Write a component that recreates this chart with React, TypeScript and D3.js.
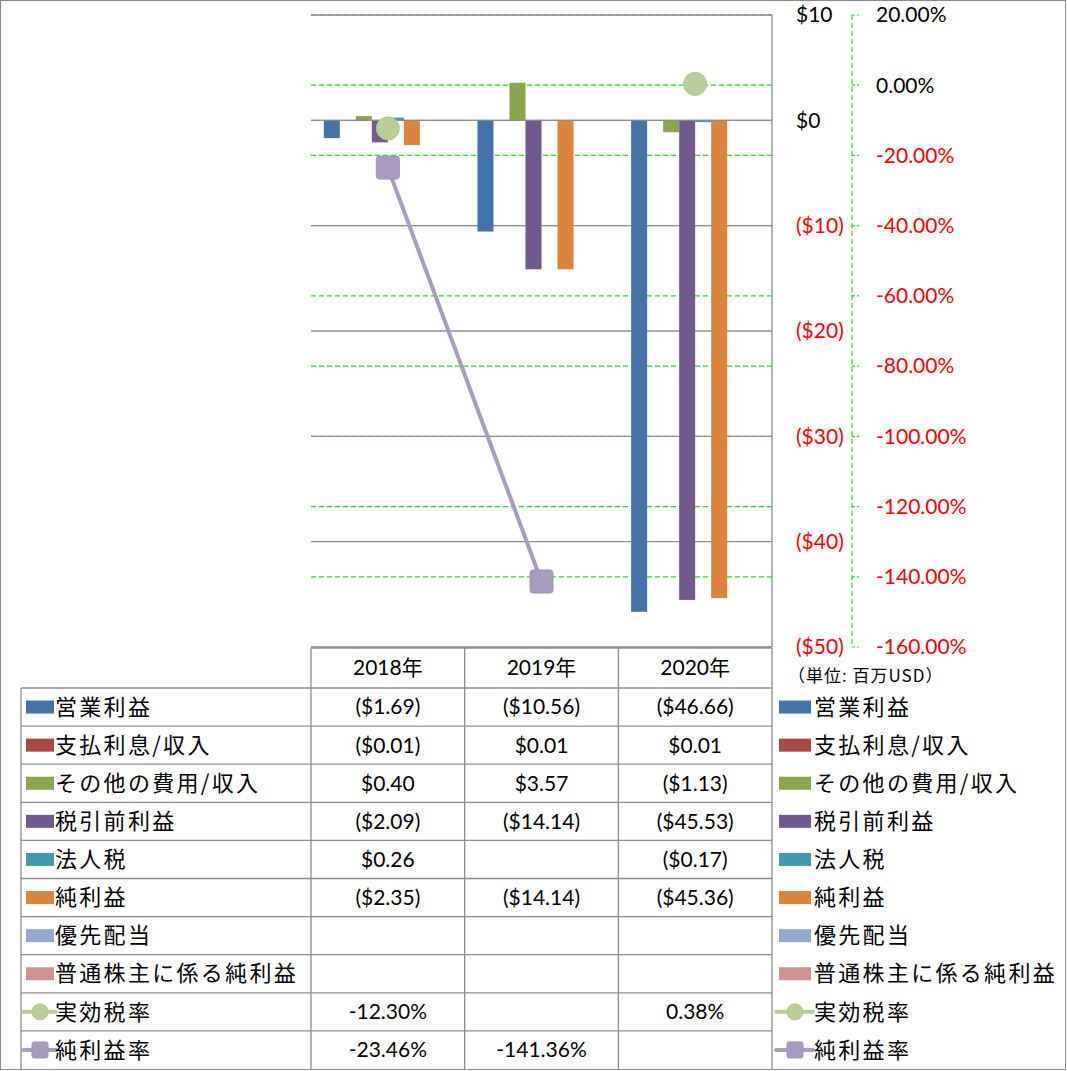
import * as d3 from "d3";

// categories
const years = ["2018年", "2019年", "2020年"];

// bar series (百万USD)
const barNames = ["営業利益", "支払利息/収入", "その他の費用/収入", "税引前利益", "法人税", "純利益", "優先配当", "普通株主に係る純利益"];
const operatingIncome = [-1.69, -10.56, -46.66];
const interest = [-0.01, 0.01, 0.01];
const otherIncome = [0.40, 3.57, -1.13];
const preTaxIncome = [-2.09, -14.14, -45.53];
const incomeTax = [0.26, null, -0.17];
const netIncome = [-2.35, -14.14, -45.36];
const preferredDividends = [null, null, null];
const netToCommon = [null, null, null];
const barValues: (number | null)[][] = [operatingIncome, interest, otherIncome, preTaxIncome, incomeTax, netIncome, preferredDividends, netToCommon];

// line series (ratio)
const lineNames = ["実効税率", "純利益率"];
const effectiveTaxRate = [-0.123, null, 0.0038];
const netMargin = [-0.2346, -1.4136, null];
const lineValues: (number | null)[][] = [effectiveTaxRate, netMargin];

// axis ticks
const leftTicks = [10, 0, -10, -20, -30, -40, -50];
const rightTicks = [0.2, 0, -0.2, -0.4, -0.6, -0.8, -1.0, -1.2, -1.4, -1.6];

const barColors = ["#4572a7", "#aa4643", "#89a54e", "#71588f", "#4198af", "#db843d", "#93a9cf", "#d19392"];
const lineColors = ["#b9cd96", "#a99bbd"];
const markerStroke = ["#b0c68a", "#a092b8"];

const FONT = "Lato, 'Noto Sans CJK JP', sans-serif";
const JP = "'Noto Sans CJK JP', sans-serif";
const GRID = "#8c8c8c";
const GREEN = "#1fe01f";

const money = (v: number | null) => v == null ? "" : v < 0 ? `($${Math.abs(v).toFixed(2)})` : `$${v.toFixed(2)}`;
const pct = (v: number | null) => v == null ? "" : `${(v * 100).toFixed(2)}%`;

export default function App() {
  const W = 1067, H = 1071;
  const plot = { left: 311, right: 772, top: 15, bottom: 647 };

  const x0 = d3.scaleBand<string>().domain(years).range([plot.left, plot.right]).padding(0);
  const x1 = d3.scaleBand<string>().domain(barNames).range([0, x0.bandwidth()]).paddingInner(0).paddingOuter(0.8);
  const y = d3.scaleLinear().domain([-50, 10]).range([plot.bottom, plot.top]);
  const y2 = d3.scaleLinear().domain([-1.6, 0.2]).range([plot.bottom, plot.top]);

  const headerTop = 648, rowsTop = 688, rowsBottom = 1069;
  const labelLeft = 21;
  const rowNames = [...barNames, ...lineNames];
  const rowScale = d3.scaleBand<string>().domain(rowNames).range([rowsTop, rowsBottom]);
  const rowData: (number | null)[][] = [...barValues, ...lineValues];
  const axisX = 852;

  const lineGen = d3.line<number | null>()
    .defined(d => d != null)
    .x((_, i) => x0(years[i])! + x0.bandwidth() / 2)
    .y(d => y2(d as number));

  const swatch = (i: number, x: number, cy: number, w: number) => {
    if (i < barNames.length) {
      return <rect x={x} y={cy - 6.5} width={w} height={13} fill={barColors[i]} />;
    }
    const li = i - barNames.length;
    const cx = x + w / 2;
    return (
      <g>
        <line x1={x - 3} x2={x + w + 2} y1={cy} y2={cy} stroke={lineColors[li]} strokeWidth={4} strokeLinecap="round" />
        {li === 0
          ? <circle cx={cx} cy={cy} r={8} fill={lineColors[li]} stroke={markerStroke[li]} strokeWidth={1} />
          : <rect x={cx - 8} y={cy - 8} width={16} height={16} rx={2} fill={lineColors[li]} stroke={markerStroke[li]} strokeWidth={1} />}
      </g>
    );
  };

  return (
    <svg width={W} height={H} style={{ display: "block", background: "#fff" }} fontFamily={FONT}>
      <style>{`body{margin:0}`}</style>
      <rect x={0.5} y={0.5} width={W - 2} height={H - 2} fill="none" stroke={GRID} />

      {/* secondary dashed gridlines */}
      {rightTicks.map(t => (
        <line key={"g2" + t} x1={plot.left} x2={plot.right} y1={y2(t)} y2={y2(t)} stroke={GREEN} strokeWidth={1.2} strokeDasharray="5,3" />
      ))}
      {/* primary gridlines */}
      {leftTicks.map(t => (
        <line key={"g" + t} x1={plot.left} x2={plot.right} y1={y(t)} y2={y(t)} stroke={GRID} strokeWidth={1.3} />
      ))}
      <line x1={plot.right} x2={plot.right} y1={plot.top} y2={plot.bottom} stroke={GRID} strokeWidth={1.3} />

      {/* bars */}
      {barValues.map((vals, si) => (
        <g key={barNames[si]} fill={barColors[si]}>
          {vals.map((v, ci) => v == null ? null : (
            <rect key={ci}
              x={x0(years[ci])! + x1(barNames[si])!}
              width={x1.bandwidth()}
              y={Math.min(y(v), y(0))}
              height={Math.abs(y(v) - y(0))} />
          ))}
        </g>
      ))}
      <line x1={plot.left} x2={plot.right} y1={y(0)} y2={y(0)} stroke={GRID} strokeWidth={1.3} />

      {/* lines and markers */}
      {lineValues.map((vals, li) => (
        <g key={lineNames[li]}>
          <path d={lineGen(vals) || ""} fill="none" stroke={lineColors[li]} strokeWidth={4} />
          {vals.map((v, ci) => {
            if (v == null) return null;
            const cx = x0(years[ci])! + x0.bandwidth() / 2, cy = y2(v);
            return li === 0
              ? <circle key={ci} cx={cx} cy={cy} r={11.5} fill={lineColors[li]} stroke={markerStroke[li]} strokeWidth={1} />
              : <rect key={ci} x={cx - 11.5} y={cy - 11.5} width={23} height={23} rx={3} fill={lineColors[li]} stroke={markerStroke[li]} strokeWidth={1} />;
          })}
        </g>
      ))}

      {/* primary axis labels */}
      {leftTicks.map(t => (
        <text key={"l" + t} x={796} y={y(t)} dy="0.35em" fontSize={21} fill={t < 0 ? "#ff0000" : "#000"}>
          {t < 0 ? `($${Math.abs(t)})` : `$${t}`}
        </text>
      ))}

      {/* secondary axis */}
      <line x1={axisX} x2={axisX} y1={plot.top} y2={plot.bottom} stroke={GREEN} strokeWidth={1.2} strokeDasharray="5,3" />
      {rightTicks.map(t => (
        <g key={"r" + t}>
          <line x1={axisX} x2={axisX + 7} y1={y2(t)} y2={y2(t)} stroke={GREEN} strokeWidth={1.2} strokeDasharray="3,2" />
          <text x={876} y={y2(t)} dy="0.35em" fontSize={21} fill={t < 0 ? "#ff0000" : "#000"}>{pct(t)}</text>
        </g>
      ))}
      <text x={788} y={676} dy="0.35em" fontSize={17} fontFamily={JP} letterSpacing={1} fill="#000">（単位: 百万USD）</text>

      {/* data table */}
      <g stroke={GRID} strokeWidth={1.3}>
        <line x1={plot.left} x2={plot.right} y1={headerTop} y2={headerTop} />
        {rowNames.map(r => (
          <line key={"h" + r} x1={labelLeft} x2={plot.right} y1={rowScale(r)} y2={rowScale(r)} />
        ))}
        <line x1={labelLeft} x2={labelLeft} y1={rowsTop} y2={rowsBottom} />
        {years.map(yr => (
          <line key={"v" + yr} x1={x0(yr)} x2={x0(yr)} y1={headerTop} y2={rowsBottom} />
        ))}
        <line x1={plot.right} x2={plot.right} y1={headerTop} y2={rowsBottom} />
      </g>
      {years.map(yr => (
        <text key={"yt" + yr} x={x0(yr)! + x0.bandwidth() / 2} y={(headerTop + rowsTop) / 2} dy="0.35em" textAnchor="middle" fontSize={21} fill="#000">{yr}</text>
      ))}
      {rowNames.map((r, ri) => {
        const cy = rowScale(r)! + rowScale.bandwidth() / 2;
        const fmt = ri < barNames.length ? money : pct;
        return (
          <g key={"row" + r}>
            {swatch(ri, 26, cy, 28)}
            <text x={55} y={cy} dy="0.35em" fontSize={22} fontFamily={JP} letterSpacing={2.3} fill="#000">{r}</text>
            {rowData[ri].map((v, ci) => (
              <text key={ci} x={x0(years[ci])! + x0.bandwidth() / 2} y={cy} dy="0.35em" textAnchor="middle" fontSize={21} fill="#000">{fmt(v)}</text>
            ))}
            {swatch(ri, 779, cy, 32)}
            <text x={814} y={cy} dy="0.35em" fontSize={22} fontFamily={JP} letterSpacing={2.3} fill="#000">{r}</text>
          </g>
        );
      })}
    </svg>
  );
}
